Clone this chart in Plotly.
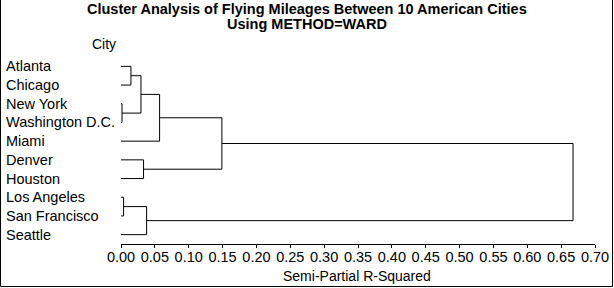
import plotly.graph_objects as go

# ---- data ----
cities = ["Atlanta", "Chicago", "New York", "Washington D.C.", "Miami",
          "Denver", "Houston", "Los Angeles", "San Francisco", "Seattle"]
# linkage: (left node, right node, semi-partial R-squared); nodes >= 10 are earlier merges
link_left = [2, 0, 7, 11, 5, 12, 13, 16, 17]
link_right = [3, 1, 8, 10, 6, 9, 4, 14, 15]
link_height = [0.0015, 0.0147, 0.0038, 0.0295, 0.0333, 0.0378, 0.0570, 0.149, 0.6676]
x_ticks = [round(0.05 * i, 2) for i in range(15)]
x_tick_labels = ["%.2f" % v for v in x_ticks]

# ---- build dendrogram segments ----
node_y = {i: float(i) for i in range(len(cities))}
node_x = {i: 0.0 for i in range(len(cities))}
xs, ys = [], []
for k, (a, b, h) in enumerate(zip(link_left, link_right, link_height)):
    nid = len(cities) + k
    ya, yb = node_y[a], node_y[b]
    xs += [node_x[a], h, h, node_x[b], None]
    ys += [ya, ya, yb, yb, None]
    node_y[nid] = (ya + yb) / 2
    node_x[nid] = h

fig = go.Figure()
fig.add_trace(go.Scatter(x=xs, y=ys, mode="lines",
                         line=dict(color="black", width=1),
                         hoverinfo="skip", showlegend=False))

L, R, T, B = 121, 19, 57, 44
W, H = 614 - L - R, 288 - T - B
def px(xp):
    return (xp - L) / W
def py(yp):
    return (288 - B - yp) / H

font = "Liberation Sans, Arial, sans-serif"
def txt(x, y, text, xanchor="center", xref="paper", yref="paper", size=14.5):
    return dict(x=x, y=y, xref=xref, yref=yref, text=text, showarrow=False,
                xanchor=xanchor, yanchor="middle",
                font=dict(family=font, size=size, color="black"))

ann = [txt(px(4), i, c, xanchor="left", yref="y") for i, c in enumerate(cities)]
ann.append(txt(px(307), py(8.5),
               "<b>Cluster Analysis of Flying Mileages Between 10 American Cities</b>"))
ann.append(txt(px(307), py(24.5), "<b>Using METHOD=WARD</b>"))
ann.append(txt(px(103.5), py(44.5), "City", size=14))
ann.append(txt(px(357), py(275.5), "Semi-Partial R-Squared", size=14))

fig.update_layout(
    width=614, height=288,
    margin=dict(l=L, r=R, t=T, b=B, autoexpand=False),
    paper_bgcolor="white", plot_bgcolor="white",
    annotations=ann,
    shapes=[dict(type="rect", xref="paper", yref="paper",
                 x0=px(0.5), x1=px(612.5), y0=py(286.5), y1=py(-2),
                 line=dict(color="black", width=1))],
    xaxis=dict(range=[0, 0.7], tickvals=x_ticks, ticktext=x_tick_labels,
               showline=True, linecolor="black", linewidth=1,
               ticks="outside", ticklen=3, tickcolor="black",
               ticklabelstandoff=-3,
               showgrid=False, zeroline=False, automargin=False,
               tickfont=dict(family=font, size=14.5, color="black")),
    yaxis=dict(range=[9.5, -0.5], showticklabels=False, showgrid=False,
               zeroline=False, showline=False, ticks="", automargin=False),
)
fig.write_html("out.html")
